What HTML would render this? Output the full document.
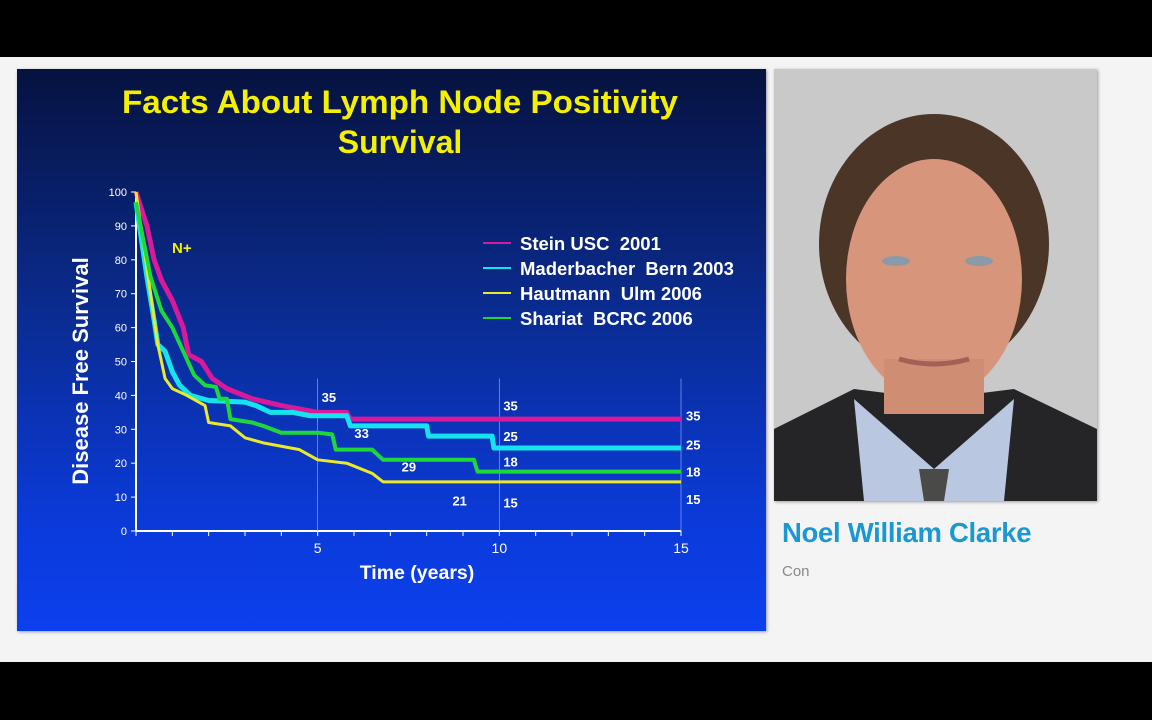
<!DOCTYPE html>
<html><head><meta charset="utf-8"><style>
body{margin:0;width:1152px;height:720px;background:#000;position:relative;overflow:hidden;font-family:"Liberation Sans",sans-serif}
#bg{position:absolute;left:0;top:57px;width:1152px;height:605px;background:#f4f4f4}
#slide{position:absolute;left:17px;top:69px;width:749px;height:562px;background:linear-gradient(#06123f 0%,#0a2a8a 40%,#0b3ad8 80%,#0c40ef 100%);box-shadow:1px 1px 3px #999}
#photo{position:absolute;left:774px;top:69px;width:323px;height:432px;box-shadow:1px 1px 3px #999}
#name{position:absolute;left:782px;top:517px;color:#1a98d2;font-weight:bold;font-size:27.5px;letter-spacing:-0.3px}
#role{position:absolute;left:782px;top:563px;color:#888;font-size:15px}
text{white-space:pre}
</style></head><body>
<div id="bg"></div>
<div id="slide">
<svg id="chart" width="749" height="562" style="position:absolute;left:0;top:0">
<text x="383" y="44" text-anchor="middle" fill="#f4f000" font-weight="bold" font-size="32" textLength="556" lengthAdjust="spacingAndGlyphs">Facts About Lymph Node Positivity</text>
<text x="383" y="84" text-anchor="middle" fill="#f4f000" font-weight="bold" font-size="32">Survival</text>
<g id="axes"></g><g id="lines"></g><g id="labels"></g>
</svg>
</div>
<svg id="photo" viewBox="0 0 323 432">
<rect width="323" height="432" fill="#c9c9c9"/>
<path d="M0,360 L80,320 L160,330 L240,320 L323,360 L323,432 L0,432Z" fill="#252528"/>
<path d="M80,330 L160,400 L240,330 L230,432 L90,432Z" fill="#b9c7e0"/>
<path d="M145,400 L175,400 L170,432 L150,432Z" fill="#4a4a48"/>
<ellipse cx="160" cy="175" rx="115" ry="130" fill="#4a3526"/>
<ellipse cx="160" cy="210" rx="88" ry="120" fill="#d7967c"/>
<rect x="110" y="290" width="100" height="55" fill="#cf8d74"/>
<ellipse cx="122" cy="192" rx="14" ry="5" fill="#8a9aa8"/>
<ellipse cx="205" cy="192" rx="14" ry="5" fill="#8a9aa8"/>
<path d="M125,290 Q160,300 195,290" stroke="#a55f54" stroke-width="5" fill="none"/>
</svg>
<div id="name">Noel William Clarke</div>
<div id="role">Con</div>
<script>
const yTicks=[0,10,20,30,40,50,60,70,80,90,100];
const xTickLabels=[5,10,15];
const seriesNames=["Stein USC  2001","Maderbacher  Bern 2003","Hautmann  Ulm 2006","Shariat  BCRC 2006"];
const seriesColors=["#d8199a","#16e3ee","#eaea2a","#1ed83a"];
const steinT=[0,0.3,0.5,0.7,1.0,1.3,1.45,1.8,2.1,2.5,3.2,4,5,5.8,5.9,15];
const steinV=[100,90,80,74,68,60,52,50,45,42,39,37,35,35,33,33];
const maderT=[0,0.3,0.5,0.6,0.8,1.0,1.2,1.5,2,3,3.3,3.7,4.3,4.8,5.8,5.9,8.0,8.05,9.8,9.85,15];
const maderV=[97,75,62,55,53,47,43,40,38.5,38,37,35,35,34,34,31,31,28,28,24.5,24.5];
const hautT=[0,0.4,0.6,0.8,1.0,1.4,1.9,2.0,2.6,3.0,3.5,4.5,5,5.8,6.5,6.8,15];
const hautV=[100,70,55,45,42,40,37,32,31,27.5,26,24,21,20,17,14.5,14.5];
const shariT=[0,0.4,0.7,1,1.3,1.6,1.9,2.2,2.3,2.5,2.6,3.2,3.5,4.0,5,5.4,5.5,6.5,6.8,9.3,9.4,15];
const shariV=[97,75,65,60,53,46,43,42.5,39,39,33,32,31,29,29,28.5,24,24,21,21,17.5,17.5];
const endLabels=["35","25","18","15"];
const endLabelValues=[34,25.5,17.5,9.5];
const midLabels=[[5,38,"35"],[5.9,27.5,"33"],[7.2,17.5,"29"],[8.6,7.5,"21"],[10,35.5,"35"],[10,26.5,"25"],[10,19,"18"],[10,7,"15"]];
const NS="http://www.w3.org/2000/svg";
const ox=119,oy=462,x1=664,yTop=123;
function X(t){return ox+(x1-ox)*t/15;}
function Y(v){return oy-(oy-yTop)*v/100;}
function mk(tag,attrs,parent){const e=document.createElementNS(NS,tag);for(const k in attrs)e.setAttribute(k,attrs[k]);parent.appendChild(e);return e;}
const ax=document.getElementById('axes'),ln=document.getElementById('lines'),lb=document.getElementById('labels');
let e=mk('line',{x1:ox,y1:Y(0),x2:ox,y2:Y(100),stroke:'#fff','stroke-width':2},ax);

e=mk('line',{x1:ox,y1:oy,x2:x1,y2:oy,stroke:'#fff','stroke-width':2},ax);

yTicks.forEach(v=>{mk('line',{x1:ox-5,y1:Y(v),x2:ox,y2:Y(v),stroke:'#fff'},ax);
 const t=mk('text',{x:ox-9,y:Y(v)+4,'text-anchor':'end',fill:'#fff','font-size':11},ax);t.textContent=v;
 });
for(let i=0;i<=15;i++)mk('line',{x1:X(i),y1:oy,x2:X(i),y2:oy+5,stroke:'#fff'},ax);
xTickLabels.forEach(v=>{mk('line',{x1:X(v),y1:oy,x2:X(v),y2:Y(45),stroke:'#8aa0ff','stroke-width':0.7},ax);
 const t=mk('text',{x:X(v),y:oy+22,'text-anchor':'middle',fill:'#fff','font-size':14},ax);t.textContent=v;
 });
e=mk('text',{x:400,y:510,'text-anchor':'middle',fill:'#fff','font-size':19.5,'font-weight':'bold'},ax);e.textContent='Time (years)';

e=mk('text',{x:0,y:0,'text-anchor':'middle',fill:'#fff','font-size':22,'font-weight':'bold',transform:'translate(71,302) rotate(-90)'},ax);e.textContent='Disease Free Survival';

e=mk('text',{x:155,y:184,fill:'#f4f000','font-size':15,'font-weight':'bold'},ax);e.textContent='N+';

const series=[[steinT,steinV,5],[maderT,maderV,5],[hautT,hautV,3],[shariT,shariV,4]];
series.forEach((s,i)=>{const pts=s[0].map((t,j)=>X(t)+','+Y(s[1][j])).join(' ');
 const p=mk('polyline',{points:pts,fill:'none',stroke:seriesColors[i],'stroke-width':s[2],'stroke-linejoin':'round'},ln);
 
 const ly=174+i*25;
 const l=mk('line',{x1:466,y1:ly,x2:494,y2:ly,stroke:seriesColors[i],'stroke-width':2},lb);
 
 const t=mk('text',{x:503,y:ly+7,fill:'#fff','font-size':18.5,'font-weight':'bold'},lb);t.textContent=seriesNames[i];
 
 const el=mk('text',{x:669,y:Y(endLabelValues[i])+5,fill:'#fff','font-size':13,'font-weight':'bold'},lb);el.textContent=endLabels[i];
 });
midLabels.forEach(m=>{const t=mk('text',{x:X(m[0])+4,y:Y(m[1]),fill:'#fff','font-size':13,'font-weight':'bold'},lb);t.textContent=m[2];
 });
</script>
</body></html>
